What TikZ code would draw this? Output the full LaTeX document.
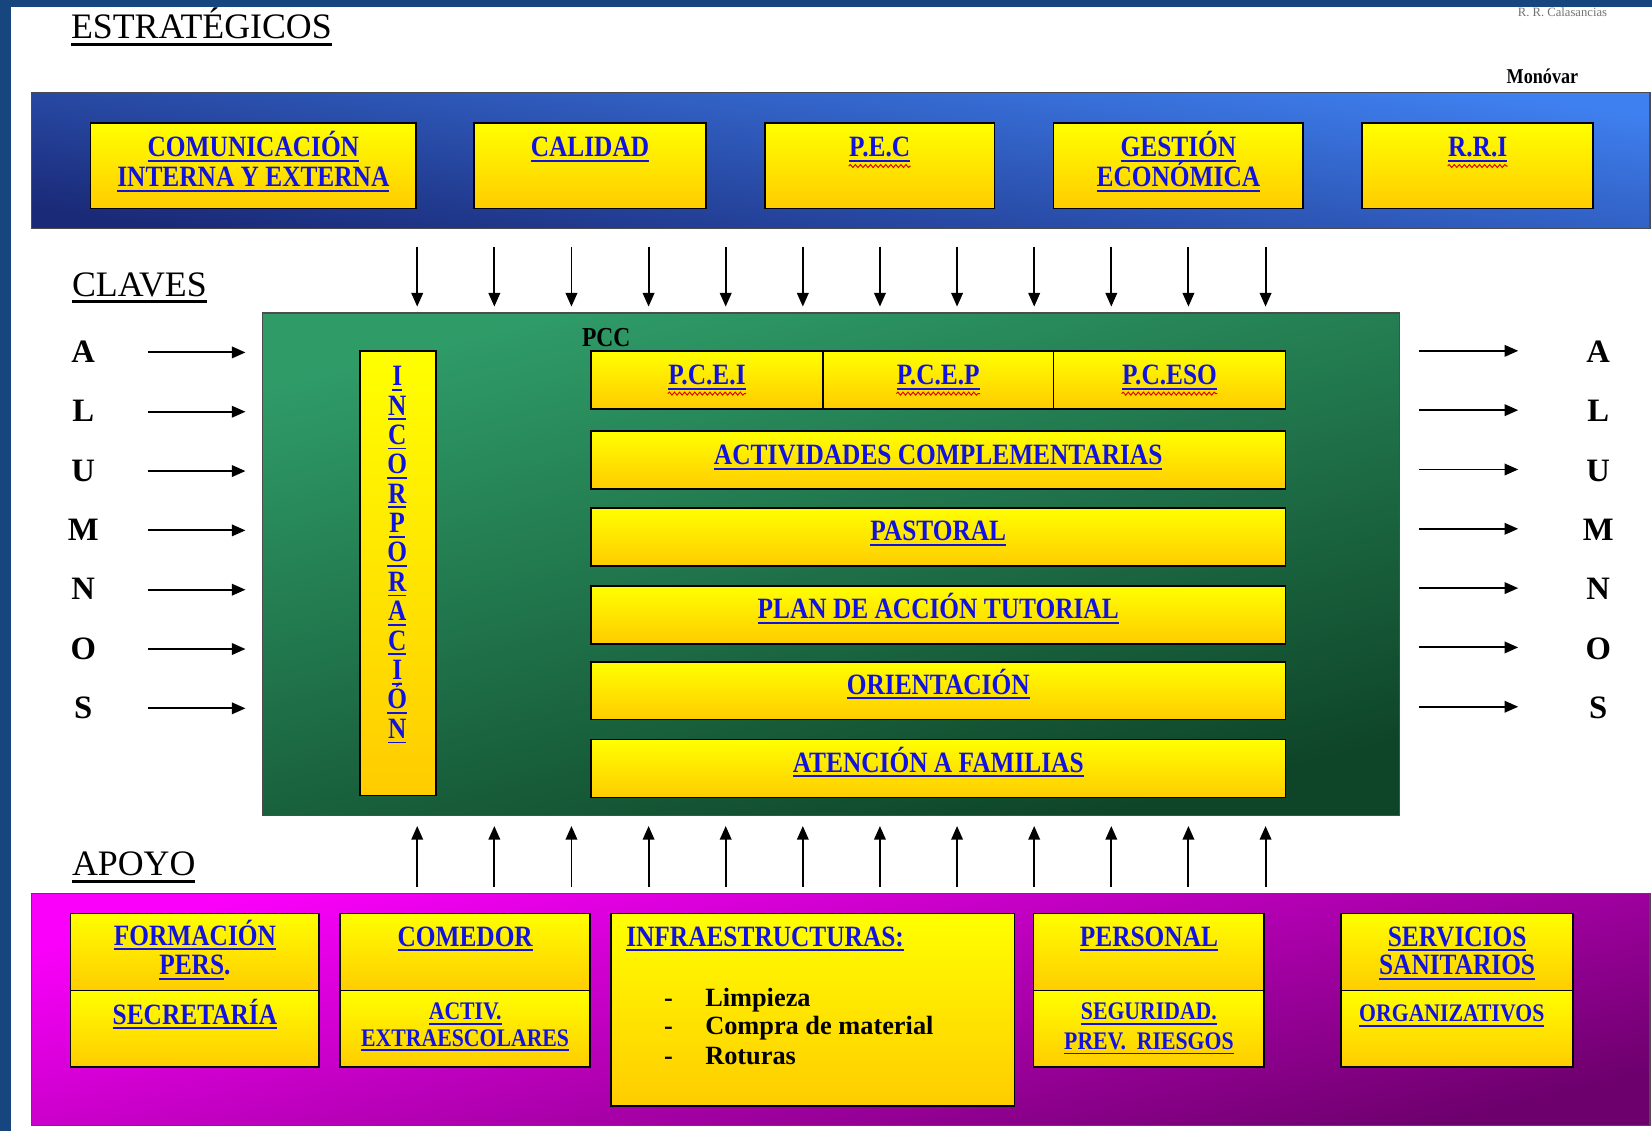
\documentclass[tikz,border=0pt]{standalone}
\usepackage{fontspec}
\setmainfont{Liberation Serif}
\newfontfamily\cf[FakeStretch=0.86]{Liberation Serif}
\usetikzlibrary{arrows.meta,decorations.pathmorphing,fit}
\definecolor{lnk}{HTML}{1212E0}
\definecolor{bgblue}{HTML}{17457E}
\definecolor{yelA}{HTML}{FFFF00}
\definecolor{yelB}{HTML}{FFCC00}
\definecolor{bluA}{HTML}{3F80F0}
\definecolor{bluB}{HTML}{1A2A78}
\definecolor{grnA}{HTML}{2F9C68}
\definecolor{grnB}{HTML}{0E4428}
\definecolor{magA}{HTML}{FA00FA}
\definecolor{magB}{HTML}{6E006E}
\newsavebox\ulbox
\newcommand\ulx[1]{\sbox\ulbox{#1}\rlap{\rule[-2.4pt]{\wd\ulbox}{0.9pt}}\usebox\ulbox}
\newcommand\ulh[1]{\sbox\ulbox{#1}\rlap{\rule[-3.4pt]{\wd\ulbox}{1.5pt}}\usebox\ulbox}
\tikzset{
  ybox/.style={draw=black, line width=0.8pt, inner sep=0pt, top color=yelA, bottom color=yelB},
  band/.style={draw=black!70, line width=0.6pt, inner sep=0pt},
  lbl/.style={inner sep=0pt, anchor=base, text=lnk, font=\cf\bfseries\fontsize{14}{14}\selectfont},
  sml/.style={lbl, font=\cf\bfseries\fontsize{12}{12}\selectfont},
  blk/.style={inner sep=0pt, anchor=base west, font=\bfseries\fontsize{12.5}{12.5}\selectfont},
  head/.style={inner sep=0pt, anchor=base west, font=\fontsize{17}{17}\selectfont},
  letter/.style={inner sep=0pt, anchor=base, font=\bfseries\fontsize{15.5}{15.5}\selectfont},
  arr/.style={line width=0.9pt, -{Triangle[length=6.5pt,width=5.5pt]}},
  squig/.style={red!85!black, line width=0.45pt, decorate, decoration={snake, amplitude=0.7pt, segment length=2.4pt}},
}
\begin{document}
\begin{tikzpicture}[x=0.5pt,y=-0.5pt]
\useasboundingbox (0,0) rectangle (1568,1073);
\fill[bgblue] (0,0) rectangle (1568,1073);
\fill[white] (10,7) rectangle (1568,1073);

% headings
\node[head] (hEst) at (67,37) {\ulh{ESTRATÉGICOS}};
\node[head] (hCla) at (68,281) {\ulh{CLAVES}};
\node[head] (hApo) at (68,831) {\ulh{APOYO}};
\node[inner sep=0pt, text=black!55, font=\fontsize{6}{6}\selectfont] (rr) at (1483,12) {R. R. Calasancias};
\node[inner sep=0pt, font=\cf\bfseries\fontsize{10}{10}\selectfont] (mon) at (1464,72) {Monóvar};

% strategic band
\node[band, fit={(30,88) (1566,217)}, top color=bluA, bottom color=bluB, shading angle=-8] (sband) {};
\node[ybox, fit={(86,117) (395,198)}] (com) {};
\node[ybox, fit={(450,117) (670,198)}] (cal) {};
\node[ybox, fit={(726,117) (944,198)}] (pec) {};
\node[ybox, fit={(1000,117) (1237,198)}] (ges) {};
\node[ybox, fit={(1293,117) (1512,198)}] (rri) {};
\node[lbl] (comT1) at (240.5,149) {\ulx{COMUNICACIÓN}};
\node[lbl] (comT2) at (240.5,177) {\ulx{INTERNA Y EXTERNA}};
\node[lbl] (calT) at (560,149) {\ulx{CALIDAD}};
\node[lbl] (pecT) at (835,149) {\ulx{P.E.C}};
\node[lbl] (gesT1) at (1118.5,149) {\ulx{GESTIÓN}};
\node[lbl] (gesT2) at (1118.5,177) {\ulx{ECONÓMICA}};
\node[lbl] (rriT) at (1402.5,149) {\ulx{R.R.I}};
\draw[squig] ([yshift=-4.3pt]pecT.base west) -- ([yshift=-4.3pt]pecT.base east);
\draw[squig] ([yshift=-4.3pt]rriT.base west) -- ([yshift=-4.3pt]rriT.base east);

% arrows down / up
\foreach \i in {0,...,11}{
  \pgfmathsetmacro\xx{396+73.2*\i}
  \coordinate (dt\i) at (\xx,234);
  \coordinate (db\i) at (\xx,291);
  \draw[arr] (dt\i) -- (db\i);
  \coordinate (ub\i) at (\xx,842);
  \coordinate (ut\i) at (\xx,784);
  \draw[arr] (ub\i) -- (ut\i);
}

% green key box
\node[band, fit={(249,297) (1328,774)}, top color=grnA, bottom color=grnB, shading angle=14] (green) {};
\node[inner sep=0pt, anchor=base west, font=\cf\bfseries\fontsize{13}{13}\selectfont] (pcc) at (552,329) {PCC};
\node[ybox, fit={(342,333) (414,755)}] (inc) {};
\foreach \c [count=\k from 0] in {I,N,C,O,R,P,O,R,A,C,I,Ó,N}{
  \pgfmathsetmacro\yy{366+27.9*\k}
  \node[lbl] (inc\k) at (377,\yy) {\ulx{\c}};
}
\node[ybox, fit={(561,333) (781,388)}] (pcei) {};
\node[ybox, fit={(781,333) (1000,388)}] (pcep) {};
\node[ybox, fit={(1000,333) (1220,388)}] (pceso) {};
\node[lbl] (pceiT) at (671,365) {\ulx{P.C.E.I}};
\node[lbl] (pcepT) at (890.5,365) {\ulx{P.C.E.P}};
\node[lbl] (pcesoT) at (1110,365) {\ulx{P.C.ESO}};
\draw[squig] ([yshift=-4.3pt]pceiT.base west) -- ([yshift=-4.3pt]pceiT.base east);
\draw[squig] ([yshift=-4.3pt]pcepT.base west) -- ([yshift=-4.3pt]pcepT.base east);
\draw[squig] ([yshift=-4.3pt]pcesoT.base west) -- ([yshift=-4.3pt]pcesoT.base east);
\node[ybox, fit={(561,409) (1220,464)}] (act) {};
\node[ybox, fit={(561,482) (1220,537)}] (pas) {};
\node[ybox, fit={(561,556) (1220,611)}] (pat) {};
\node[ybox, fit={(561,628) (1220,683)}] (ori) {};
\node[ybox, fit={(561,702) (1220,757)}] (ate) {};
\node[lbl] (actT) at (890.5,441) {\ulx{ACTIVIDADES COMPLEMENTARIAS}};
\node[lbl] (pasT) at (890.5,513) {\ulx{PASTORAL}};
\node[lbl] (patT) at (890.5,587) {\ulx{PLAN DE ACCIÓN TUTORIAL}};
\node[lbl] (oriT) at (890.5,659) {\ulx{ORIENTACIÓN}};
\node[lbl] (ateT) at (890.5,733) {\ulx{ATENCIÓN A FAMILIAS}};

% ALUMNOS in / out
\foreach \c [count=\k from 0] in {A,L,U,M,N,O,S}{
  \pgfmathsetmacro\yy{333+56.3*\k}
  \node[letter] (li\k) at (79,\yy+11) {\c};
  \node[letter] (lo\k) at (1517,\yy+11) {\c};
  \coordinate (ai\k) at (140,\yy+1.5);
  \coordinate (bi\k) at (233,\yy+1.5);
  \draw[arr] (ai\k) -- (bi\k);
  \coordinate (ao\k) at (1347,\yy);
  \coordinate (bo\k) at (1441,\yy);
  \draw[arr] (ao\k) -- (bo\k);
}

% support band
\node[band, fit={(30,848) (1566,1068)}, top color=magA, bottom color=magB, shading angle=14] (mband) {};
\node[ybox, fit={(67,867) (303,940)}] (form) {};
\node[ybox, fit={(67,940) (303,1013)}] (secr) {};
\node[ybox, fit={(323,867) (560,940)}] (come) {};
\node[ybox, fit={(323,940) (560,1013)}] (extr) {};
\node[ybox, fit={(580,867) (963,1050)}] (infr) {};
\node[ybox, fit={(981,867) (1200,940)}] (pers) {};
\node[ybox, fit={(981,940) (1200,1013)}] (segu) {};
\node[ybox, fit={(1273,867) (1493,940)}] (serv) {};
\node[ybox, fit={(1273,940) (1493,1013)}] (orga) {};

\node[lbl] (formT1) at (185,897) {\ulx{FORMACIÓN}};
\node[lbl] (formT2) at (185,925) {\ulx{PERS}.};
\node[lbl] (secrT) at (185,972) {\ulx{SECRETARÍA}};
\node[lbl] (comeT) at (441.5,898) {\ulx{COMEDOR}};
\node[sml] (extrT1) at (441.5,968) {\ulx{ACTIV.}};
\node[sml] (extrT2) at (441.5,993) {\ulx{EXTRAESCOLARES}};
\node[lbl, anchor=base west] (infrT) at (594,898) {\ulx{INFRAESTRUCTURAS:}};
\node[blk] (d1) at (630,955) {-};
\node[blk] (d2) at (630,982) {-};
\node[blk] (d3) at (630,1010) {-};
\node[blk] (i1) at (669,955) {Limpieza};
\node[blk] (i2) at (669,982) {Compra de material};
\node[blk] (i3) at (669,1010) {Roturas};
\node[lbl] (persT) at (1090.5,898) {\ulx{PERSONAL}};
\node[sml] (seguT1) at (1090.5,968) {\ulx{SEGURIDAD.}};
\node[sml] (seguT2) at (1090.5,996) {\ulx{PREV.\ \ RIESGOS}};
\node[lbl] (servT1) at (1383,898) {\ulx{SERVICIOS}};
\node[lbl] (servT2) at (1383,925) {\ulx{SANITARIOS}};
\node[sml] (orgaT) at (1378,970) {\ulx{ORGANIZATIVOS}};
\end{tikzpicture}
\end{document}
